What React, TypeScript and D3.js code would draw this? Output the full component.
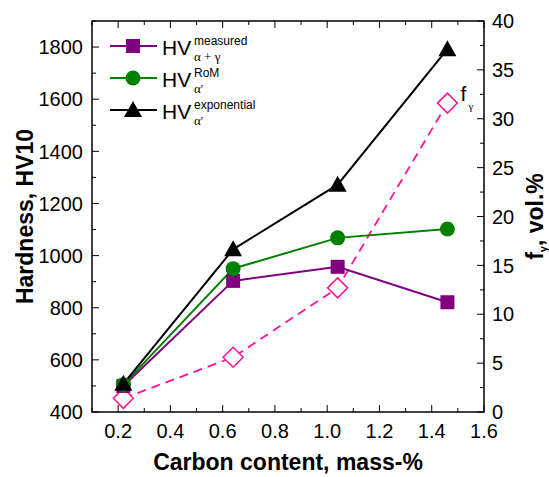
import React from "react";
import * as d3 from "d3";

const carbon = [0.22, 0.64, 1.04, 1.46];
const hvMeasured = [500, 903, 957, 821];
const hvRoM = [505, 950, 1068, 1102];
const hvExponential = [508, 1024, 1272, 1792];
const fGamma = [1.4, 5.6, 12.7, 31.6];
const xTicks = [0.2, 0.4, 0.6, 0.8, 1.0, 1.2, 1.4, 1.6];
const yLeftTicks = [400, 600, 800, 1000, 1200, 1400, 1600, 1800];
const yRightTicks = [0, 5, 10, 15, 20, 25, 30, 35, 40];

const W = 549, H = 477;
const L = 92, R = 484, T = 21, B = 412;
const FONT = "'Liberation Sans', Arial, sans-serif";

export default function App() {
  const x = d3.scaleLinear().domain([0.1, 1.6]).range([L, R]);
  const yL = d3.scaleLinear().domain([400, 1900]).range([B, T]);
  const yR = d3.scaleLinear().domain([0, 40]).range([B, T]);
  const line = d3.line<[number, number]>().x(d => d[0]).y(d => d[1]);

  const pts = (vals: number[], ys: d3.ScaleLinear<number, number>) =>
    carbon.map((c, i) => [x(c), ys(vals[i])] as [number, number]);

  const pM = pts(hvMeasured, yL);
  const pR = pts(hvRoM, yL);
  const pE = pts(hvExponential, yL);
  const pF = pts(fGamma, yR);

  const square = (cx: number, cy: number, k: string) => (
    <rect key={k} x={cx - 7} y={cy - 7} width={14} height={14} fill="#800080" />
  );
  const circle = (cx: number, cy: number, k: string) => (
    <circle key={k} cx={cx} cy={cy} r={7.5} fill="#008000" />
  );
  const tri = (cx: number, cy: number, k: string) => (
    <path key={k} d={`M${cx},${cy - 9} L${cx + 9},${cy + 7} L${cx - 9},${cy + 7} Z`} fill="#000" />
  );
  const diamond = (cx: number, cy: number, k: string) => (
    <path key={k} d={`M${cx},${cy - 10} L${cx + 10},${cy} L${cx},${cy + 10} L${cx - 10},${cy} Z`} fill="#fff" stroke="#FF1493" strokeWidth={1.5} />
  );

  const xMinor = d3.range(0.1, 1.6001, 0.1);
  const yLMinor = d3.range(400, 1900.1, 100);
  const yRMinor = d3.range(0, 40.01, 2.5);

  const legendRows = [
    { y: 46, color: "#800080", mk: square, sup: "measured", sub: "α + γ" },
    { y: 78, color: "#008000", mk: circle, sup: "RoM", sub: "α'" },
    { y: 110, color: "#000", mk: tri, sup: "exponential", sub: "α'" },
  ];

  return (
    <svg width={W} height={H} style={{ position: "absolute", left: 0, top: 0 }} fontFamily={FONT}>
      <rect width={W} height={H} fill="#fff" />
      {xMinor.map((v, i) => {
        const major = Math.abs(Math.round(v * 10) % 2) === 0;
        const len = major ? 7 : 4;
        return (
          <g key={"xt" + i} stroke="#000" strokeWidth={1}>
            <line x1={x(v)} x2={x(v)} y1={B} y2={B - len} />
            <line x1={x(v)} x2={x(v)} y1={T} y2={T + len} />
          </g>
        );
      })}
      {yLMinor.map((v, i) => {
        const major = Math.round(v) % 200 === 0;
        const len = major ? 7 : 4;
        return <line key={"yl" + i} x1={L} x2={L + len} y1={yL(v)} y2={yL(v)} stroke="#000" />;
      })}
      {yRMinor.map((v, i) => {
        const major = Math.abs(v % 5) < 0.01;
        const len = major ? 7 : 4;
        return <line key={"yr" + i} x1={R} x2={R - len} y1={yR(v)} y2={yR(v)} stroke="#000" />;
      })}
      <rect x={L} y={T} width={R - L} height={B - T} fill="none" stroke="#000" strokeWidth={1.5} />

      {xTicks.map(v => (
        <text key={"xl" + v} x={x(v)} y={438} textAnchor="middle" fontSize={20}>{v.toFixed(1)}</text>
      ))}
      {yLeftTicks.map(v => (
        <text key={"yll" + v} x={83} y={yL(v)} dy="0.36em" textAnchor="end" fontSize={20}>{v}</text>
      ))}
      {yRightTicks.map(v => (
        <text key={"yrl" + v} x={492} y={yR(v)} dy="0.36em" textAnchor="start" fontSize={20}>{v}</text>
      ))}

      <text x={288} y={470} textAnchor="middle" fontSize={23} fontWeight="bold">Carbon content, mass-%</text>
      <text transform={`translate(33,${(T + B) / 2}) rotate(-90)`} textAnchor="middle" fontSize={23} fontWeight="bold">Hardness, HV10</text>
      <text transform={`translate(543,${(T + B) / 2}) rotate(-90)`} textAnchor="middle" fontSize={23} fontWeight="bold">
        f<tspan fontSize={11} dy={4}>γ</tspan><tspan dy={-4}>, vol.%</tspan>
      </text>

      <path d={line(pF) || ""} fill="none" stroke="#FF1493" strokeWidth={1.8} strokeDasharray="9,6" />
      <path d={line(pM) || ""} fill="none" stroke="#800080" strokeWidth={2} />
      <path d={line(pR) || ""} fill="none" stroke="#008000" strokeWidth={2} />
      <path d={line(pE) || ""} fill="none" stroke="#000" strokeWidth={2} />
      {pF.map((p, i) => diamond(p[0], p[1], "d" + i))}
      {pM.map((p, i) => square(p[0], p[1], "s" + i))}
      {pR.map((p, i) => circle(p[0], p[1], "c" + i))}
      {pE.map((p, i) => tri(p[0], p[1], "t" + i))}

      <text x={pF[3][0] + 13} y={pF[3][1] - 2} fontSize={21}>f</text>
      <text x={pF[3][0] + 21} y={pF[3][1] + 7} fontSize={11} fontFamily="'Liberation Serif', serif">γ</text>

      {legendRows.map((r, i) => (
        <g key={"lg" + i}>
          <line x1={110} x2={157} y1={r.y} y2={r.y} stroke={r.color} strokeWidth={2} />
          {r.mk(133, r.y, "lm" + i)}
          <text x={162} y={r.y + 9} fontSize={21}>HV</text>
          <text x={194} y={r.y - 1} fontSize={12}>{r.sup}</text>
          <text x={194} y={r.y + 15} fontSize={13} fontFamily="'Liberation Serif', serif">{r.sub}</text>
        </g>
      ))}
    </svg>
  );
}
